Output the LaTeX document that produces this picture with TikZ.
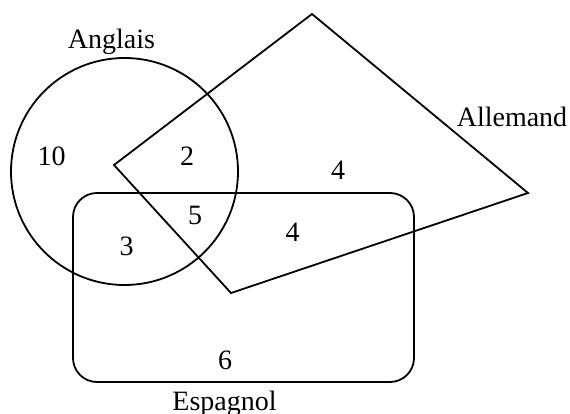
\documentclass[tikz,border=0pt]{standalone}
\usepackage{fontspec}
\setmainfont{Liberation Serif}
\begin{document}
\begin{tikzpicture}[x=1pt,y=-1pt,
  shapeline/.style={draw=black,line width=1.8pt,line join=miter},
  lbl/.style={inner sep=0pt,anchor=base,font=\fontsize{28}{30}\selectfont}]
\useasboundingbox (0,0) rectangle (570,414);
% Anglais (circle)
\draw[shapeline] (124.5,171.5) circle[radius=113.5];
% Allemand (quadrilateral)
\draw[shapeline] (114,165) -- (312,14) -- (528,193) -- (231,293) -- cycle;
% Espagnol (rounded rectangle)
\draw[shapeline,rounded corners=24pt] (73,193) rectangle (414,382);
% labels
\node[lbl] (ang) at (111.5,48.5) {Anglais};
\node[lbl] (all) at (512,126.7) {Allemand};
\node[lbl] (esp) at (224.5,410.5) {Espagnol};
\node[lbl] (n10) at (51.5,165.7) {10};
\node[lbl] (n2) at (187,165.2) {2};
\node[lbl] (n4a) at (338,180) {4};
\node[lbl] (n5) at (195,224.3) {5};
\node[lbl] (n3) at (126.5,255.7) {3};
\node[lbl] (n4b) at (292.5,241) {4};
\node[lbl] (n6) at (225,369) {6};
\end{tikzpicture}
\end{document}
